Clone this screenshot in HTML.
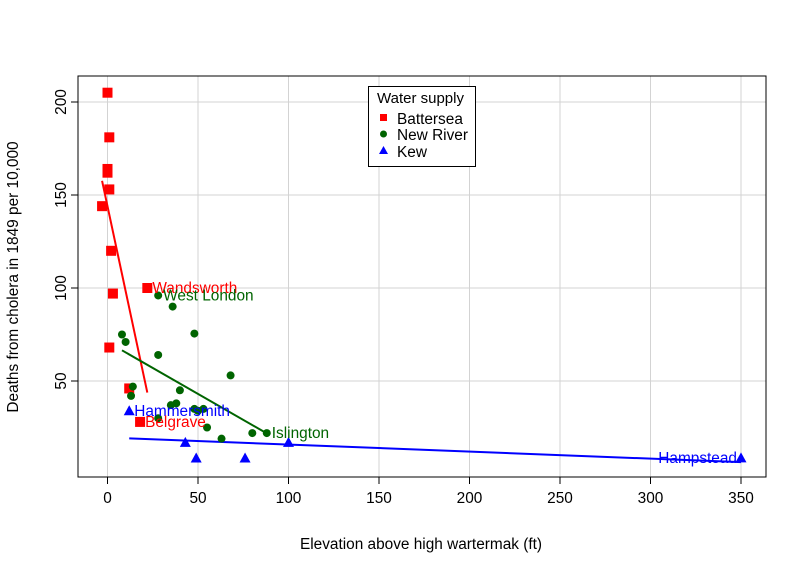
<!DOCTYPE html>
<html><head><meta charset="utf-8"><style>
body{margin:0;background:#fff}
svg text{font-family:"Liberation Sans",Arial,sans-serif}
</style></head><body>
<svg id="chart" width="806" height="572">
<g id="grid"></g><g id="marks"></g><g id="axes"></g>
</svg>
<script>
const xTicks=[0,50,100,150,200,250,300,350];
const yTicks=[50,100,150,200];
const batX=[0,1,0,0,1,-3,2,3,1,12,18,22];
const batY=[205,181,164,162,153,144,120,97,68,46,28,100];
const nrX=[28,36,8,48,10,28,68,14,40,13,38,35,48,53,50,28,55,63,80,88];
const nrY=[96,90,75,75.5,71,64,53,47,45,42,38,37,35,35,34,30,25,19,22,22];
const kewX=[12,43,49,76,100,350];
const kewY=[34,17,8.6,8.6,17,8.7];
const labels=[["Wandsworth",22,100,"red"],["West London",28,96,"#006400"],["Hammersmith",12,34,"blue"],["Belgrave",18,28,"red"],["Islington",88,22,"#006400"],["Hampstead",350,8.7,"blue"]];
const NS="http://www.w3.org/2000/svg";
const FS=15.4;
const sx=v=>107.5+v*1.81, sy=v=>474-v*1.86;
function mk(t,a,p){const e=document.createElementNS(NS,t);for(const k in a)e.setAttribute(k,a[k]);(p||document.getElementById('marks')).appendChild(e);return e;}
const grid=document.getElementById('grid'),axes=document.getElementById('axes');
xTicks.forEach(t=>{const l=mk('line',{x1:sx(t),x2:sx(t),y1:76,y2:477,stroke:'#d3d3d3'},grid);

mk('line',{x1:sx(t),x2:sx(t),y1:477,y2:484,stroke:'#000'},axes);
const tx=mk('text',{x:sx(t),y:503,'text-anchor':'middle','font-size':FS},axes);tx.textContent=t;
});
yTicks.forEach(t=>{const l=mk('line',{x1:78,x2:766,y1:sy(t),y2:sy(t),stroke:'#d3d3d3'},grid);

mk('line',{x1:71,x2:78,y1:sy(t),y2:sy(t),stroke:'#000'},axes);
const tx=mk('text',{x:0,y:0,'text-anchor':'middle','font-size':FS,transform:`translate(66,${sy(t)}) rotate(-90)`},axes);tx.textContent=t;
});
mk('line',{x1:sx(0),x2:sx(350),y1:477,y2:477,stroke:'#000'},axes);
mk('line',{x1:78,x2:78,y1:sy(50),y2:sy(200),stroke:'#000'},axes);
const fr=mk('rect',{x:78,y:76,width:688,height:401,fill:'none',stroke:'#000'},axes);

function fit(X,Y,c,name){const n=X.length;let mx=0,my=0;X.forEach((v,i)=>{mx+=v;my+=Y[i]});mx/=n;my/=n;
let sxy=0,sxx=0;X.forEach((v,i)=>{sxy+=(v-mx)*(Y[i]-my);sxx+=(v-mx)*(v-mx)});const b=sxy/sxx,a=my-b*mx;
const x0=Math.min(...X),x1=Math.max(...X);
const l=mk('line',{x1:sx(x0),y1:sy(a+b*x0),x2:sx(x1),y2:sy(a+b*x1),stroke:c,'stroke-width':2});
}
fit(batX,batY,'red','battersea-fit-line');fit(nrX,nrY,'#006400','new-river-fit-line');fit(kewX,kewY,'blue','kew-fit-line');
batX.forEach((x,i)=>{const e=mk('rect',{x:sx(x)-5,y:sy(batY[i])-5,width:10,height:10,fill:'red'});
});
nrX.forEach((x,i)=>{const e=mk('circle',{cx:sx(x),cy:sy(nrY[i]),r:4,fill:'#006400'});
});
kewX.forEach((x,i)=>{const X=sx(x),Y=sy(kewY[i]);const e=mk('polygon',{points:`${X-5.5},${Y+4.5} ${X+5.5},${Y+4.5} ${X},${Y-5.5}`,fill:'blue'});
});
labels.forEach(([t,x,y,c])=>{const right=x>300;const e=mk('text',{x:right?sx(x)-4:sx(x)+5,y:sy(y)+5,fill:c,'font-size':FS,'text-anchor':right?'end':'start'});e.textContent=t;
});
</script>
<svg style="position:absolute;left:0;top:0" width="806" height="572">
<text x="421" y="549" text-anchor="middle" font-size="15.4">Elevation above high wartermak (ft)</text>
<text transform="translate(18,277) rotate(-90)" text-anchor="middle" font-size="15.4">Deaths from cholera in 1849 per 10,000</text>
<g>
<rect x="368.5" y="86.5" width="107" height="80" fill="#fff" stroke="#000"/>
<text x="377" y="103" font-size="15">Water supply</text>
<rect x="380" y="114" width="7" height="7" fill="red"/><text x="397" y="124" font-size="15.4">Battersea</text>
<circle cx="383.5" cy="134" r="3.5" fill="#006400"/><text x="397" y="140" font-size="15.4">New River</text>
<polygon points="379,154 388,154 383.5,146" fill="blue"/><text x="397" y="157" font-size="15.4">Kew</text>
</g>
</svg>
</body></html>
